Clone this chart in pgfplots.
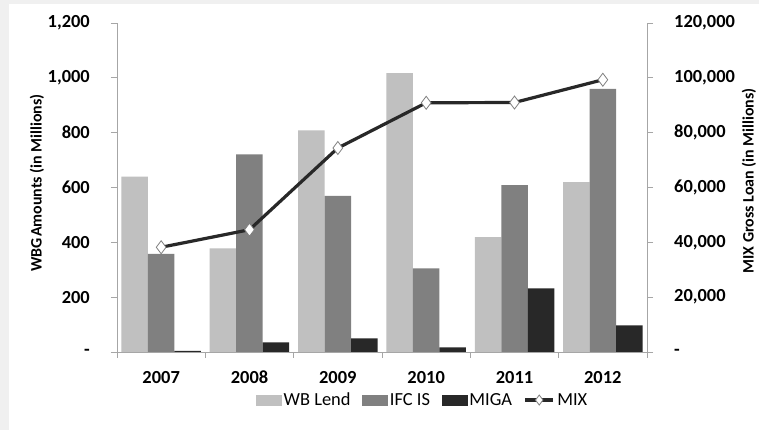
\documentclass[border=0pt]{standalone}
\usepackage{fontspec}
\setmainfont{Carlito}
\usepackage{pgfplots}
\pgfplotsset{compat=1.18}

\definecolor{wb}{HTML}{C0C0C0}
\definecolor{ifc}{HTML}{808080}
\definecolor{miga}{HTML}{282828}
\definecolor{axgray}{HTML}{A6A6A6}

\pgfplotsset{
  common/.style={
    scale only axis,
    width=530bp, height=329bp,
    xmin=-0.5, xmax=5.5,
    tick align=outside,
    major tick length=6bp,
    tick style={axgray, line width=0.9bp},
    axis line style={axgray, line width=0.9bp},
    tick label style={font=\fontsize{18.5}{20}\selectfont\bfseries},
    label style={font=\fontsize{16}{18}\selectfont\bfseries},
    scaled y ticks=false,
  },
  mixleg/.style={
    legend image code/.code={\draw[##1, mark size=5bp, mark repeat=2, mark phase=2]
      plot coordinates {(0bp,0bp) (14bp,0bp) (28bp,0bp)};}
  },
  barleg/.style={
    legend image code/.code={\fill[#1] (0bp,-5bp) rectangle (25bp,5bp);}
  },
}

\begin{document}
\begin{tikzpicture}
\useasboundingbox (-117bp,-78bp) rectangle (642bp,352bp);
\fill[black!6] (-117bp,-78bp) rectangle (642bp,352bp);
\fill[white] (-108bp,-78bp) rectangle (642bp,348bp);

\begin{axis}[
  common,
  ybar=0pt, bar width=0.3,
  ymin=0, ymax=1200,
  ytick={0,200,400,600,800,1000,1200},
  yticklabels={-,200,400,600,800,{1,000},{1,200}},
  axis y line*=left, axis x line*=bottom,
  xtick={0,...,5},
  xticklabels={2007,2008,2009,2010,2011,2012},
  every major x tick/.append style={draw=none},
  minor xtick={-0.5,0.5,...,5.5},
  minor tick length=6bp,
  xticklabel style={anchor=north, inner sep=0pt, text height=12bp, text depth=0bp, yshift=-13bp},
  yticklabel style={anchor=east, inner sep=0pt, xshift=-21bp},
  ylabel={WBG\hspace{1bp}Amounts (in Millions)},
  ylabel style={at={(axis description cs:-0.151,0.514)}, anchor=center},
]
\addplot[fill=wb, draw=none] coordinates {(0,640) (1,378) (2,808) (3,1017) (4,419) (5,620)};
\addplot[fill=ifc, draw=none] coordinates {(0,358) (1,721) (2,569) (3,305) (4,609) (5,960)};
\addplot[fill=miga, draw=none] coordinates {(0,4) (1,35) (2,50) (3,17) (4,232) (5,97)};
\end{axis}

\begin{axis}[
  common,
  ymin=0, ymax=120000,
  ytick={0,20000,40000,60000,80000,100000,120000},
  yticklabels={-,{20,000},{40,000},{60,000},{80,000},{100,000},{120,000}},
  axis y line*=right, axis x line=none,
  yticklabel style={anchor=west, inner sep=0pt, xshift=21bp},
  ylabel={MIX Gross Loan (in Millions)},
  ylabel style={at={(axis description cs:1.1925,0.52)}, anchor=center},
  legend columns=-1,
  legend style={at={(axis description cs:0.577,-0.146)}, anchor=center,
    draw=none, fill=none, inner sep=0pt,
    font=\fontsize{18.5}{20}\selectfont,
    nodes={inner sep=2.5bp},
    /tikz/every even column/.append style={column sep=9bp}},
]
\addlegendimage{barleg=wb}
\addlegendimage{barleg=ifc}
\addlegendimage{barleg=miga}
\addplot[color=miga, line width=3.2bp, mark=diamond*, mark size=6.5bp,
  mark options={fill=white, draw=gray, line width=0.8bp}, mixleg]
  coordinates {(0,38200) (1,44600) (2,74400) (3,90900) (4,91000) (5,99300)};
\legend{WB Lend, IFC IS, MIGA, MIX}
\end{axis}
\end{tikzpicture}
\end{document}
